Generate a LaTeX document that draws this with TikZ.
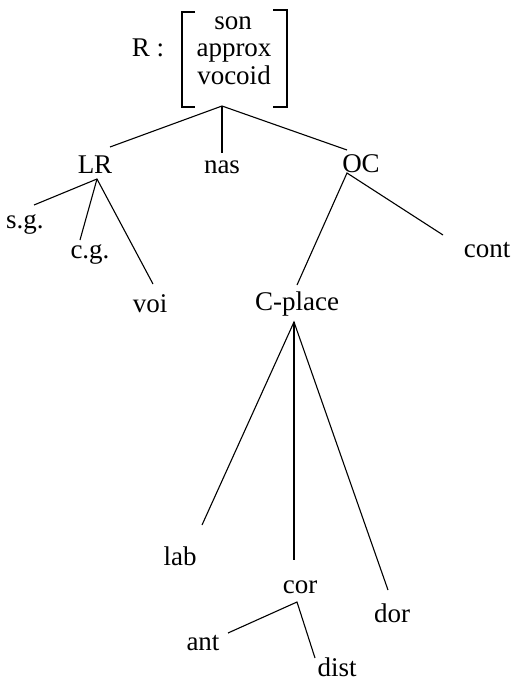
\documentclass[tikz,border=0pt]{standalone}
\usepackage{fontspec}
\setmainfont{Liberation Serif}
\begin{document}
\begin{tikzpicture}[x=1pt,y=-1pt,
  lbl/.style={anchor=base,inner sep=0pt,font=\fontsize{27}{28}\selectfont},
  edge/.style={line width=1.1pt},
  brk/.style={line width=1.1pt}]
\useasboundingbox (0,0) rectangle (515,682);
% labels
\node[lbl] (R) at (148,57) {R :};
\node[lbl] (son) at (233,30) {son};
\node[lbl] (approx) at (234,57) {approx};
\node[lbl] (vocoid) at (234,85) {vocoid};
\node[lbl] (LR) at (95,173) {LR};
\node[lbl] (nas) at (222,173) {nas};
\node[lbl] (OC) at (361,172) {OC};
\node[lbl] (sg) at (25,228) {s.g.};
\node[lbl] (cg) at (90,258) {c.g.};
\node[lbl] (voi) at (150,312) {voi};
\node[lbl] (Cplace) at (297,310) {C-place};
\node[lbl] (cont) at (487,257) {cont};
\node[lbl] (lab) at (180,565) {lab};
\node[lbl] (cor) at (300,593) {cor};
\node[lbl] (dor) at (392,622) {dor};
\node[lbl] (ant) at (203,650) {ant};
\node[lbl] (dist) at (337,676) {dist};
% brackets
\draw[brk] (195,12) -- (182,12) -- (182,107) -- (195,107);
\draw[brk] (273,10) -- (287,10) -- (287,107) -- (273,107);
% joints and ends
\coordinate (root) at (222,106);
\coordinate (eLR) at (110,147);
\coordinate (enas) at (222,153);
\coordinate (eOC) at (347,150);
\coordinate (jLR) at (97,179);
\coordinate (esg) at (34,205);
\coordinate (ecg) at (80,240);
\coordinate (evoi) at (153,284);
\coordinate (jOC) at (347,173);
\coordinate (eCplace) at (297,285);
\coordinate (econt) at (443,235);
\coordinate (jC) at (294,322);
\coordinate (elab) at (202,525);
\coordinate (ecor) at (294,560);
\coordinate (edor) at (388,590);
\coordinate (jcor) at (297,602);
\coordinate (eant) at (228,633);
\coordinate (edist) at (315,658);
% edges
\draw[edge] (eLR) -- (root) -- (eOC);
\draw[edge] (root) -- (enas);
\draw[edge] (esg) -- (jLR) -- (evoi);
\draw[edge] (jLR) -- (ecg);
\draw[edge] (eCplace) -- (jOC) -- (econt);
\draw[edge] (elab) -- (jC) -- (edor);
\draw[edge] (jC) -- (ecor);
\draw[edge] (eant) -- (jcor) -- (edist);
\end{tikzpicture}
\end{document}
